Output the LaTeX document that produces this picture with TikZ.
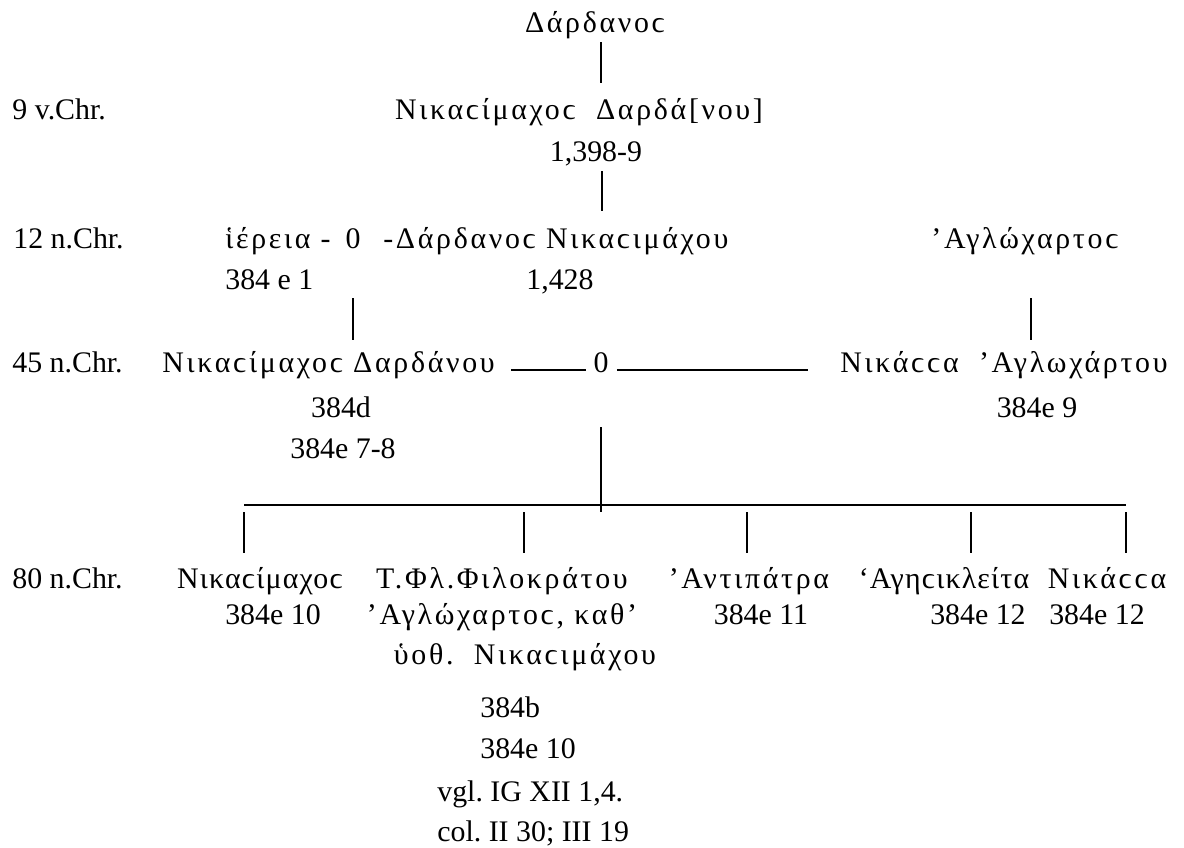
\documentclass[tikz,border=0pt]{standalone}
\usepackage{fontspec}
\setmainfont{Liberation Serif}
\newfontfamily\gr[LetterSpace=9]{Liberation Serif}
\newfontfamily\grn[LetterSpace=4]{Liberation Serif}
\usetikzlibrary{calc}
\frenchspacing
\begin{document}
\begin{tikzpicture}[x=0.02cm,y=-0.02cm]
	\tikzset{s/.style={inner sep=0pt,anchor=base,text height=0.42cm,text depth=0.1cm,font=\fontsize{17}{20}\selectfont},
		sl/.style={s,anchor=base west},
		sr/.style={s,anchor=base east},
		g/.style={s,font=\gr\fontsize{17}{20}\selectfont},
		gn/.style={s,font=\grn\fontsize{17}{20}\selectfont},
		gl/.style={g,anchor=base west},
		ln/.style={line width=1.3pt,shorten <=0.08cm,shorten >=0.26cm},
		hl/.style={line width=0.6pt}}
	\useasboundingbox(0,0)rectangle(1184,848);
	%% Zeitleiste
	\path(12,120)node[sl](y9){9 v.Chr.}(13,248)node[sl](y12){12 n.Chr.}(12,372)node[sl](y45){45 n.Chr.}(12,588)node[sl](y80){80 n.Chr.};
	%% Stammvater
	\path(595,33)node[g](D0){Δάρδανοϲ}(579,120)node[g](N9){Νικαϲίμαχοϲ\ \ Δαρδά[νου]}(596,162)node[s](r9){1,398-9};
	%% 12 n.Chr.
	\path(225,248)node[gl](I12){ἱέρεια\ -}(353,248)node[s](M12){0}(383,248)node[gl](D12){-Δάρδανοϲ Νικαϲιμάχου}
		(225,289)node[sl](r12a){384 e 1}(560,289)node[s](r12b){1,428}
		(1025,248)node[g](A12){’Αγλώχαρτοϲ};
	%% 45 n.Chr.
	\path(162,372)node[gl](N45){Νικαϲίμαχοϲ Δαρδάνου}(601,372)node[s](M45){0}(1004,372)node[g](K45){Νικάϲϲα\ \ ’Αγλωχάρτου}
		(341,417)node[s](r45a){384d}(343,458)node[s](r45b){384e 7-8}(1037,417)node[s](r45c){384e 9};
	%% 80 n.Chr.
	\path(260,588)node[gn](C1){Νικαϲίμαχοϲ}(502,588)node[g](C2){Τ.Φλ.Φιλοκράτου}(749,588)node[g](C3){’Αντιπάτρα}
		(944,588)node[gn](C4){‘Αγηϲικλείτα}(1107,588)node[g](C5){Νικάϲϲα};
	\path(273,624)node[s](c1a){384e 10}(502,624)node[g](c2a){’Αγλώχαρτοϲ, καθ’}(761,624)node[s](c3a){384e 11}
		(1026,624)node[sr](c4a){384e 12}(1097,624)node[s](c5a){384e 12};
	\path(525,664)node[g](c2b){ὑοθ.\ \ Νικαϲιμάχου}(480,717)node[sl](c2c){384b}(480,758)node[sl](c2d){384e 10}
		(437,801)node[sl](c2e){vgl. IG XII 1,4.}(437,841)node[sl](c2f){col. II 30; III 19};
	%% Linien
	\foreach \x/\y in {D0/N9,r9/D12}
	\draw[ln,shorten >=0.31cm]([xshift=0.12cm]\x.south)--([xshift=0.12cm]\x.south|-\y.north);
	\draw[ln,shorten >=0.22cm](M12|-r12a.south)--(M12|-N45.north);
	\draw[ln,shorten <=0.9cm,shorten >=0.22cm]([xshift=0.12cm]A12.south)--([xshift=0.12cm]A12.south|-K45.north);
	\draw[hl,shorten <=0.32cm,shorten >=0.14cm]([yshift=0.04cm]N45.base east)--([yshift=0.04cm]M45.base west);
	\draw[hl,shorten <=0.16cm,shorten >=0.64cm]([yshift=0.04cm]M45.base east)--([yshift=0.04cm]K45.base west);
	\path(244,505)coordinate(b1)(524,505)coordinate(b2)(747,505)coordinate(b3)(971,505)coordinate(b4)(1126,505)coordinate(b5);
	\draw[hl](b1)--(b5);
	\draw[ln,shorten <=1cm,shorten >=-0.14cm](M45.south)--(M45.south|-b1);
	\foreach \x/\y in {b1/C1,b2/C2,b3/C3,b4/C4,b5/C5}
	\draw[ln,shorten <=0.14cm,shorten >=0.28cm](\x)--(\x|-\y.north);
\end{tikzpicture}
\end{document}
